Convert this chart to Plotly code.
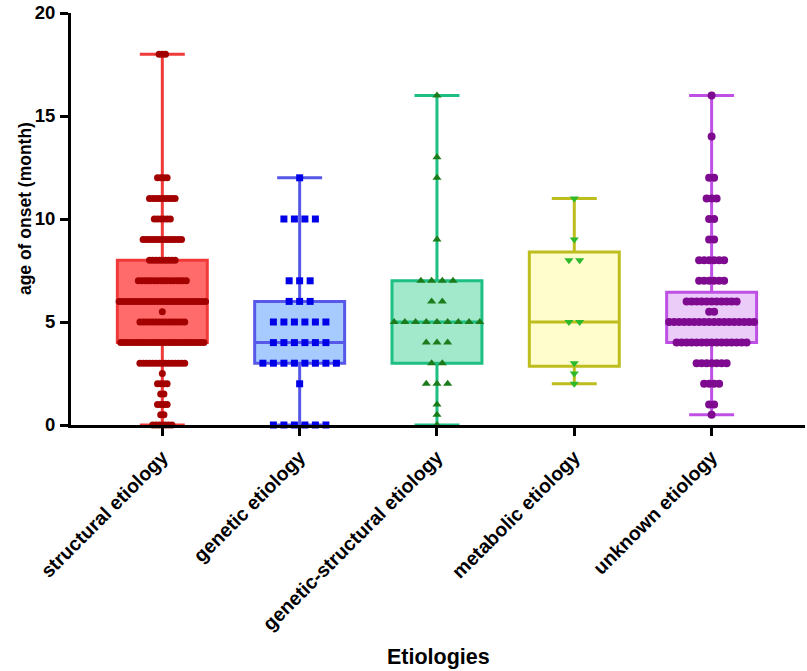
import plotly.graph_objects as go

categories = ['structural etiology', 'genetic etiology', 'genetic-structural etiology',
              'metabolic etiology', 'unknown etiology']

# age of onset values (month) and how many patients sit on each value
structural_ages = [18, 12, 11, 10, 9, 8, 7, 6, 5.5, 5, 4, 3, 2.5, 2, 1.5, 1, 0.5, 0]
structural_counts = [3, 4, 9, 6, 13, 9, 16, 28, 1, 15, 27, 15, 1, 4, 2, 4, 2, 7]
genetic_ages = [12, 10, 7, 6, 5, 4, 3, 2, 0]
genetic_counts = [1, 4, 3, 3, 6, 6, 8, 1, 6]
genstruct_ages = [16, 13, 12, 9, 7, 6, 5, 4, 3, 2, 1, 0.5, 0]
genstruct_counts = [1, 1, 1, 1, 4, 2, 9, 3, 2, 3, 1, 1, 1]
metabolic_ages = [11, 9, 8, 5, 3, 2.5, 2]
metabolic_counts = [1, 1, 2, 2, 1, 1, 1]
unknown_ages = [16, 14, 12, 11, 10, 9, 8, 7, 6, 5.5, 5, 4, 3, 2, 1, 0.5]
unknown_counts = [1, 1, 2, 3, 2, 2, 6, 6, 11, 2, 18, 15, 7, 4, 2, 1]

# box quartiles
q1_vals = [4, 3, 3, 2.85, 4]
median_vals = [6, 4, 5, 5, 5]
q3_vals = [8, 6, 7, 8.4, 6.45]

groups = [
    (structural_ages, structural_counts),
    (genetic_ages, genetic_counts),
    (genstruct_ages, genstruct_counts),
    (metabolic_ages, metabolic_counts),
    (unknown_ages, unknown_counts),
]

# styling per group
box_fill = ['#FF6B6B', '#A7CBFF', '#A2E8CB', '#FFFDCC', '#EBCBF8']
box_line = ['#F03A3A', '#5858E8', '#1DBF82', '#BDBD1E', '#BF50E6']
dot_color = ['#A30000', '#0000E8', '#1C7C1C', '#2CBA2C', '#7E0A90']
dot_symbol = ['circle', 'square', 'triangle-up', 'triangle-down', 'circle']
dot_size = [7, 7, 8, 8, 8]
dot_gap_px = [3.2, 10.5, 10.7, 10.7, 5.0]

x_range = [-0.665, 4.68]
plot_w = 807 - 71 - 2
px_per_unit = plot_w / (x_range[1] - x_range[0])

fig = go.Figure()

for i, (ages, counts) in enumerate(groups):
    values = []
    for a, c in zip(ages, counts):
        values += [a] * c
    fig.add_trace(go.Box(
        x=[i], q1=[q1_vals[i]], median=[median_vals[i]], q3=[q3_vals[i]],
        lowerfence=[min(values)], upperfence=[max(values)],
        width=0.655, whiskerwidth=0.5,
        fillcolor=box_fill[i], line=dict(color=box_line[i], width=3),
        boxpoints=False, showlegend=False, hoverinfo='skip'
    ))

for i, (ages, counts) in enumerate(groups):
    xs, ys = [], []
    step = dot_gap_px[i] / px_per_unit
    for a, c in zip(ages, counts):
        for k in range(c):
            xs.append(i + (k - (c - 1) / 2) * step)
            ys.append(a)
    fig.add_trace(go.Scatter(
        x=xs, y=ys, mode='markers', cliponaxis=False, showlegend=False,
        marker=dict(symbol=dot_symbol[i], size=dot_size[i], color=dot_color[i],
                    line=dict(width=0))
    ))

font_family = 'Liberation Sans, Arial, sans-serif'

fig.update_layout(
    width=807, height=671,
    margin=dict(l=71, r=2, t=8, b=246),
    paper_bgcolor='white', plot_bgcolor='white',
    font=dict(family=font_family, color='black'),
    xaxis=dict(
        range=x_range, tickmode='array', tickvals=list(range(len(categories))),
        ticktext=categories, tickangle=-45,
        showline=True, linecolor='black', linewidth=3,
        ticks='outside', ticklen=8, tickwidth=3, tickcolor='black',
        showgrid=False, zeroline=False, ticklabelstandoff=2,
        tickfont=dict(size=19.5, family=font_family, weight='bold')
    ),
    yaxis=dict(
        range=[0, 20], tickmode='array', tickvals=[0, 5, 10, 15, 20],
        showline=True, linecolor='black', linewidth=3,
        ticks='outside', ticklen=8, tickwidth=3, tickcolor='black',
        showgrid=False, zeroline=False,
        ticklabeloverflow='allow', ticklabelstandoff=1,
        tickfont=dict(size=18.5, family=font_family, weight='bold')
    ),
    annotations=[
        dict(text='age of onset (month)', xref='paper', yref='paper',
             x=-0.0635, y=0.525, xanchor='center', yanchor='middle',
             textangle=-90, showarrow=False,
             font=dict(size=17.5, family=font_family, weight='bold')),
        dict(text='Etiologies', xref='paper', yref='paper',
             x=0.5, y=-0.562, xanchor='center', yanchor='middle',
             showarrow=False,
             font=dict(size=21.5, family=font_family, weight='bold')),
    ]
)

# the page body has a default 8px margin; drop it so the figure sits at the corner
fig.write_html("out.html", config={'displayModeBar': False},
               post_script="document.body.style.margin='0';")
